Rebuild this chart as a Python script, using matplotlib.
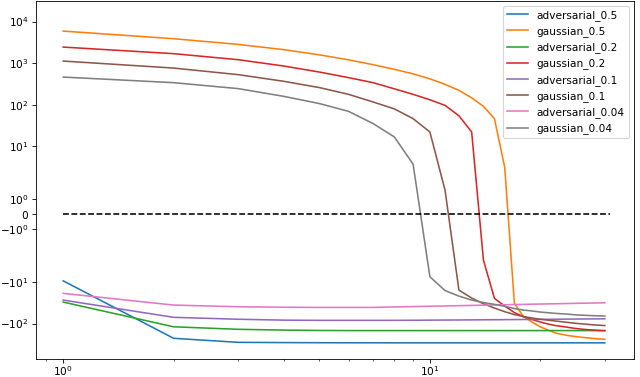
import numpy as np
import matplotlib
matplotlib.use("Agg")
import matplotlib.pyplot as plt

# values (symlog y, linthresh 3)
steps = np.arange(1, 31)

adversarial_05 = [-9.4, -227, -284, -288, -290, -291, -291, -292, -292, -292,
                  -292, -292, -292, -292, -292, -292, -292, -292, -292, -292,
                  -292, -292, -292, -292, -292, -292, -292, -292, -292, -292]
gaussian_05 = [5890, 3864, 2818, 2104, 1578, 1197, 916, 707, 551, 418,
               308, 221, 146, 91, 46, 3.1, -32.7, -68.7, -92, -120,
               -144, -169, -184, -197, -206, -215, -222, -230, -236, -240]
adversarial_02 = [-30.5, -120, -138, -144, -147, -148, -148, -148, -148, -148,
                  -148, -148, -148, -148, -148, -148, -148, -148, -148, -148,
                  -148, -148, -148, -148, -148, -148, -148, -148, -148, -148]
gaussian_02 = [2427, 1686, 1208, 849, 608, 447, 338, 240, 177, 131,
               96, 54, 22, -3.0, -24.8, -38, -54.5, -68.7, -80, -92,
               -103, -112, -118, -125, -132, -137, -141, -144, -147, -149]
adversarial_01 = [-27.3, -71, -79, -83, -84, -84, -84, -84, -83.5, -83,
                  -82.6, -82.2, -81.8, -81.4, -81, -80.7, -80.4, -80.1, -79.8, -79.5,
                  -79.2, -78.9, -78.6, -78.3, -78.1, -77.8, -77.6, -77.4, -77.2, -77]
gaussian_01 = [1119, 759, 527, 364, 257, 177, 116, 79, 46, 22,
               1.55, -15.7, -24.4, -33.5, -42.5, -52, -61, -68, -74, -79,
               -83, -87, -91, -95, -99, -102, -105, -108, -110, -112]
adversarial_004 = [-18.8, -36, -39.5, -40.6, -41, -41, -41, -39.9, -39.1, -38.4,
                   -37.8, -37.2, -36.7, -36.2, -35.7, -35.3, -34.9, -34.6, -34.3, -34.0,
                   -33.7, -33.5, -33.2, -33.0, -32.7, -32.5, -32.3, -32.1, -31.9, -31.7]
gaussian_004 = [461, 338, 243, 158, 106, 69, 35, 16.7, 3.7, -7.5,
                -16.1, -21.9, -27.3, -31.3, -34.6, -38.5, -43.7, -47.4, -50, -53,
                -55, -57, -58.5, -60, -62, -63, -64, -65, -65.5, -66]

series = [
    ("adversarial_0.5", adversarial_05),
    ("gaussian_0.5", gaussian_05),
    ("adversarial_0.2", adversarial_02),
    ("gaussian_0.2", gaussian_02),
    ("adversarial_0.1", adversarial_01),
    ("gaussian_0.1", gaussian_01),
    ("adversarial_0.04", adversarial_004),
    ("gaussian_0.04", gaussian_004),
]

ref_x = [1, 31]
ref_y = [0, 0]

# draw at dpi 76 so default sizes match the downscaled original
fig = plt.figure(figsize=(640 / 76, 377 / 76), dpi=76)
ax = fig.add_axes([36 / 640, 18 / 377, 598.3 / 640, 358.5 / 377])

for name, vals in series:
    ax.plot(steps, vals, label=name)
ax.plot(ref_x, ref_y, 'k--')

ax.set_xscale('log')
ax.set_yscale('symlog', linthresh=3)
ax.set_xlim(0.843, 36.1)
ax.set_ylim(-715, 32100)
ax.tick_params(axis='x', pad=1.5)
ax.legend(loc='upper right')

fig.savefig('out.png', dpi=76)
